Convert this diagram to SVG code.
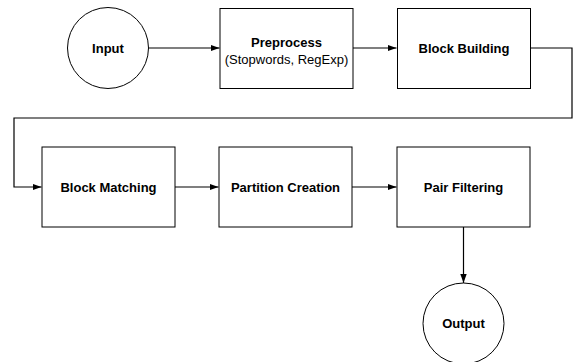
<svg xmlns="http://www.w3.org/2000/svg" width="577" height="362" viewBox="0 0 577 362">
  <style>
    .shape { fill: #ffffff; stroke: #000000; stroke-width: 1; }
    .edge { fill: none; stroke: #000000; stroke-width: 1.2; }
    .title { font-family: "Liberation Sans", Arial, Helvetica, sans-serif; font-size: 13px; font-weight: bold; fill: #000000; text-anchor: middle; }
    .sub { font-family: "Liberation Sans", Arial, Helvetica, sans-serif; font-size: 13px; fill: #000000; text-anchor: middle; }
  </style>
  <defs>
    <marker id="arrow" markerWidth="9" markerHeight="8" refX="9" refY="4" orient="auto" markerUnits="userSpaceOnUse">
      <path d="M0,0.8 L9,4 L0,7.2 Z" fill="#000000"/>
    </marker>
  </defs>
  <rect width="577" height="362" fill="#ffffff"/>

  <g id="connectors">
    <path class="edge" d="M149,48 H219.5" marker-end="url(#arrow)"/>
    <path class="edge" d="M353,48 H396.5" marker-end="url(#arrow)"/>
    <path class="edge" d="M531,48 H572 V118 H14 V187 H41.5" marker-end="url(#arrow)"/>
    <path class="edge" d="M175,187 H218.5" marker-end="url(#arrow)"/>
    <path class="edge" d="M352,187 H396.5" marker-end="url(#arrow)"/>
    <path class="edge" d="M463.5,227 V283" marker-end="url(#arrow)"/>
  </g>

  <g id="input">
    <circle class="shape" cx="108" cy="48" r="40.5"/>
    <text class="title" x="108" y="52.5">Input</text>
  </g>

  <g id="preprocess">
    <rect class="shape" x="220" y="8.5" width="133" height="80"/>
    <text class="title" x="286.5" y="46.5">Preprocess</text>
    <text class="sub" x="286.5" y="63.5">(Stopwords, RegExp)</text>
  </g>

  <g id="block-building">
    <rect class="shape" x="397.5" y="8.5" width="133" height="80"/>
    <text class="title" x="464" y="53">Block Building</text>
  </g>

  <g id="block-matching">
    <rect class="shape" x="42" y="147" width="133" height="80"/>
    <text class="title" x="108.5" y="191.5">Block Matching</text>
  </g>

  <g id="partition-creation">
    <rect class="shape" x="219" y="147" width="133" height="80"/>
    <text class="title" x="285.5" y="191.5">Partition Creation</text>
  </g>

  <g id="pair-filtering">
    <rect class="shape" x="397" y="147" width="133" height="80"/>
    <text class="title" x="463.5" y="191.5">Pair Filtering</text>
  </g>

  <g id="output">
    <circle class="shape" cx="463.5" cy="323.5" r="40.5"/>
    <text class="title" x="463.5" y="328">Output</text>
  </g>
</svg>
